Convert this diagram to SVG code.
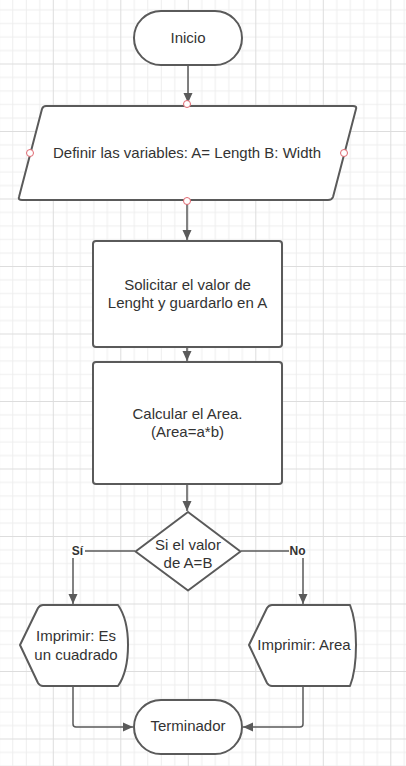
<svg xmlns="http://www.w3.org/2000/svg" width="406" height="766" viewBox="0 0 406 766">
<defs>
<pattern id="grid" patternUnits="userSpaceOnUse" x="52.8" y="63.5" width="67.5" height="67.5">
<path d="M14,0V67.5M27.5,0V67.5M41,0V67.5M54.5,0V67.5M0,14H67.5M0,27.5H67.5M0,41H67.5M0,54.5H67.5" stroke="#eeeeee" stroke-width="1" fill="none"/>
<path d="M0.5,0V67.5M0,0.5H67.5" stroke="#dddddd" stroke-width="1" fill="none"/>
</pattern>
<marker id="arr" markerWidth="10" markerHeight="10" viewBox="0 0 10 10" refX="10" refY="5" orient="auto" markerUnits="userSpaceOnUse">
<path d="M0,0.5L10,5L0,9.5Z" fill="#5a5a5a"/>
</marker>
<style>
.s{fill:#fff;stroke:#5a5a5a;stroke-width:2;stroke-linejoin:round}
.c{fill:none;stroke:#5a5a5a;stroke-width:1.5}
.t{font-family:"Liberation Sans",Arial,sans-serif;font-size:15px;fill:#333;text-anchor:middle}
.l{font-family:"Liberation Sans",Arial,sans-serif;font-size:12px;font-weight:bold;fill:#333;text-anchor:middle}
.p{fill:#fff;stroke:#e06870;stroke-width:1}
</style>
</defs>
<rect width="406" height="766" fill="#fff"/>
<rect width="406" height="766" fill="url(#grid)"/>
<g id="connectors">
<path class="c" d="M188,66V103" marker-end="url(#arr)"/>
<path class="c" d="M187,201V240" marker-end="url(#arr)"/>
<path class="c" d="M187,347V361" marker-end="url(#arr)"/>
<path class="c" d="M187,484V511" marker-end="url(#arr)"/>
<path class="c" d="M135,551H75Q73,551 73,553V604" marker-end="url(#arr)"/>
<path class="c" d="M241,551H301Q303,551 303,553V604" marker-end="url(#arr)"/>
<path class="c" d="M73,686V724Q73,727 76,727H133" marker-end="url(#arr)"/>
<path class="c" d="M303,686V724Q303,727 300,727H243" marker-end="url(#arr)"/>
<rect x="70" y="543" width="15" height="15" fill="#fff"/>
<text class="l" x="77.5" y="555">Sí</text>
<rect x="289" y="543" width="17" height="15" fill="#fff"/>
<text class="l" x="297.5" y="555">No</text>
</g>
<g id="inicio">
<rect class="s" x="134" y="11" width="108" height="54" rx="27"/>
<text class="t" x="188" y="42.5">Inicio</text>
</g>
<g id="definir">
<path class="s" d="M46,106H353Q357,106 356,109L333,197Q332,200 328,200H22Q18,200 19,197L42,109Q43,106 46,106Z"/>
<text class="t" x="187" y="157.5">Definir las variables: A= Length B: Width</text>
<circle class="p" cx="187" cy="104" r="3.5"/>
<circle class="p" cx="30" cy="153" r="3.5"/>
<circle class="p" cx="344" cy="153" r="3.5"/>
<circle class="p" cx="187" cy="201" r="3.5"/>
</g>
<g id="solicitar">
<rect class="s" x="93" y="241" width="189" height="106" rx="3"/>
<text class="t" x="187.5" y="289.5">Solicitar el valor de</text>
<text class="t" x="187.5" y="308">Lenght y guardarlo en A</text>
</g>
<g id="calcular">
<rect class="s" x="93" y="362" width="189" height="122" rx="3"/>
<text class="t" x="187.5" y="418.5">Calcular el Area.</text>
<text class="t" x="187.5" y="437">(Area=a*b)</text>
</g>
<g id="decision">
<path class="s" d="M188,512L240.5,551.5L188,590.5L135.5,551.5Z"/>
<text class="t" x="188" y="549.5">Si el valor</text>
<text class="t" x="188" y="567.5">de A=B</text>
</g>
<g id="imprimir-cuadrado">
<path class="s" d="M20,645L38,608Q40,605 43,605H118C125,615 128,630 128,645C128,660 125,676 118,686H43Q40,686 38,683Z"/>
<text class="t" x="76" y="641">Imprimir: Es</text>
<text class="t" x="76" y="659.5">un cuadrado</text>
</g>
<g id="imprimir-area">
<path class="s" d="M249,645L267,608Q269,605 272,605H350C354,615 356,630 356,645C356,660 354,676 350,686H272Q269,686 267,683Z"/>
<text class="t" x="304" y="650">Imprimir: Area</text>
</g>
<g id="terminador">
<rect class="s" x="134" y="700" width="108" height="54" rx="27"/>
<text class="t" x="188" y="731">Terminador</text>
</g>
</svg>
